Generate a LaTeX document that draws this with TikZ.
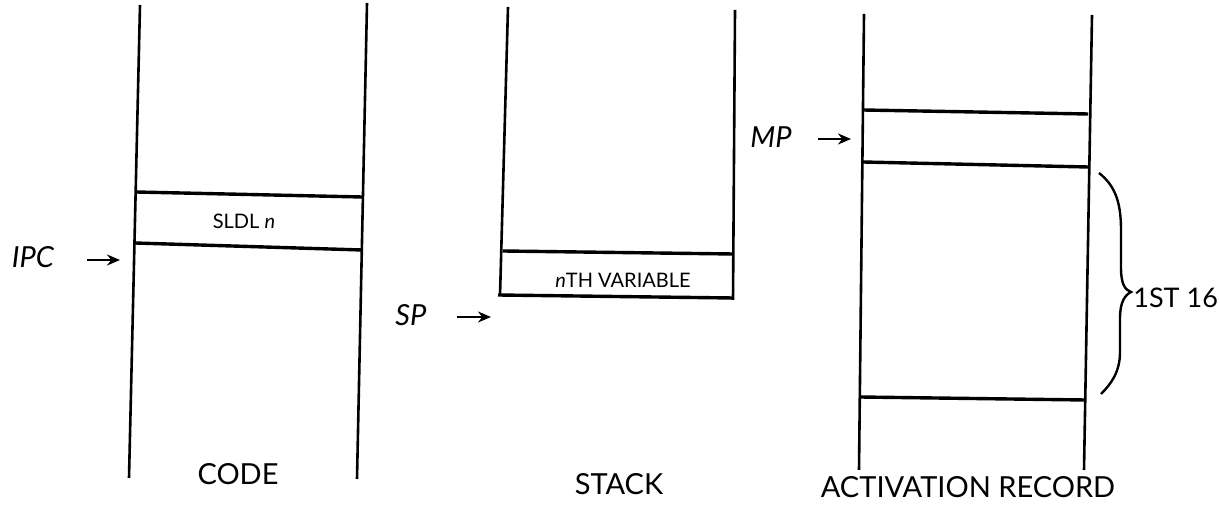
\documentclass[tikz,border=0pt]{standalone}
\usepackage{fontspec}
\setmainfont{Lato}
\usetikzlibrary{arrows.meta}
\begin{document}
\begin{tikzpicture}[x=0.5pt,y=-0.5pt,
  wall/.style={line width=1.3pt},
  cell/.style={line width=1.7pt},
  lbl/.style={font=\fontsize{14.5}{16}\selectfont, inner sep=0pt},
  ptr/.style={font=\fontsize{14.5}{16}\selectfont\itshape, inner sep=0pt},
  small/.style={font=\fontsize{10}{12}\selectfont, inner sep=0pt},
  arr/.style={-{Stealth[length=6.5pt,width=5.5pt]}, line width=1.2pt}]
\useasboundingbox (0,0) rectangle (1220,506);
% ---------- CODE column
\coordinate (c1t) at (140,5);   \coordinate (c1b) at (129,478);
\coordinate (c2t) at (367,3);   \coordinate (c2b) at (357,479);
\draw[wall] (c1t) -- (c1b);
\draw[wall] (c2t) -- (c2b);
\coordinate (cA1) at (136,192); \coordinate (cA2) at (362,197);
\coordinate (cB1) at (135,243); \coordinate (cB2) at (362,250);
\draw[cell] (cA1) -- (cA2);
\draw[cell] (cB1) -- (cB2);
\node[small] (sldl) at (244,221) {SLDL \textit{n}};
\node[ptr] (ipc) at (33,257) {IPC};
\coordinate (ipcA) at (87,260); \coordinate (ipcB) at (120,260);
\draw[arr] (ipcA) -- (ipcB);
\node[lbl] (code) at (238,474) {CODE};
% ---------- STACK column
\coordinate (s1t) at (508,7);   \coordinate (s1b) at (500,296);
\coordinate (s2t) at (735,10);  \coordinate (s2b) at (733,300);
\draw[wall] (s1t) -- (s1b);
\draw[wall] (s2t) -- (s2b);
\coordinate (sA1) at (503,251); \coordinate (sA2) at (733,254);
\coordinate (sB1) at (498,295); \coordinate (sB2) at (733,298);
\draw[cell] (sA1) -- (sA2);
\draw[cell] (sB1) -- (sB2);
\node[small] (nth) at (623,280) {\textit{n}TH VARIABLE};
\node[ptr] (sp) at (411,315) {SP};
\coordinate (spA) at (457,317); \coordinate (spB) at (491,317);
\draw[arr] (spA) -- (spB);
\node[lbl] (stack) at (619,484) {STACK};
% ---------- ACTIVATION RECORD column
\coordinate (a1t) at (864,14);  \coordinate (a1b) at (859,470);
\coordinate (a2t) at (1092,15); \coordinate (a2b) at (1084,470);
\draw[wall] (a1t) -- (a1b);
\draw[wall] (a2t) -- (a2b);
\coordinate (aA1) at (863,110); \coordinate (aA2) at (1088,114);
\coordinate (aB1) at (863,162); \coordinate (aB2) at (1088,167);
\coordinate (aC1) at (860,397); \coordinate (aC2) at (1085,400);
\draw[cell] (aA1) -- (aA2);
\draw[cell] (aB1) -- (aB2);
\draw[cell] (aC1) -- (aC2);
\node[ptr] (mp) at (771,137) {MP};
\coordinate (mpA) at (818,139); \coordinate (mpB) at (851,139);
\draw[arr] (mpA) -- (mpB);
\coordinate (brT) at (1099,173); \coordinate (brM) at (1131,292); \coordinate (brB) at (1101,394);
\draw[line width=1.2pt] (brT) .. controls (1114,185) and (1121,200) .. (1121,230)
  -- (1121,268) .. controls (1121,284) and (1125,290) .. (brM)
  .. controls (1125,295) and (1120,302) .. (1120,318)
  -- (1120,352) .. controls (1120,372) and (1111,384) .. (brB);
\node[font=\fontsize{13.5}{15}\selectfont, inner sep=0pt, anchor=west] (first) at (1133,298) {1ST 16};
\node[lbl] (ar) at (968,487) {ACTIVATION RECORD};
\end{tikzpicture}
\end{document}
